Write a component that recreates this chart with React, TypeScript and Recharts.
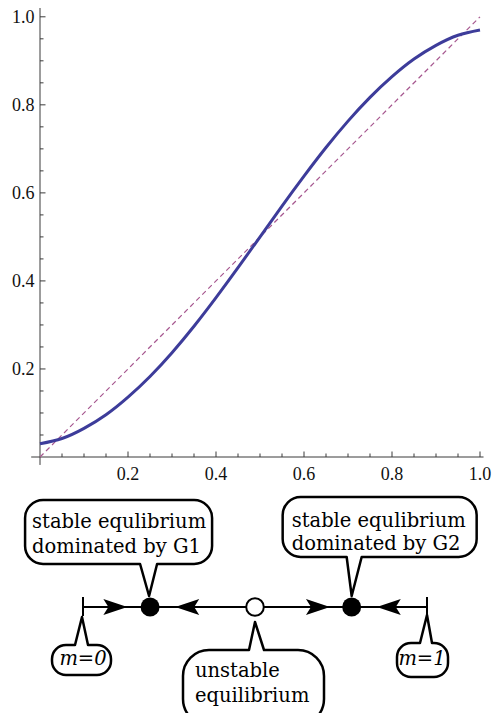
import {
  LineChart,
  Line,
  XAxis,
  YAxis,
  ReferenceLine,
  ComposedChart,
  Scatter,
} from "recharts";

// curve
const mValues = [
  0, 0.05, 0.1, 0.15, 0.2, 0.25, 0.3, 0.35, 0.4, 0.45, 0.5, 0.55, 0.6, 0.65,
  0.7, 0.75, 0.8, 0.85, 0.9, 0.95, 1,
];
const curveValues = [
  0.03, 0.042, 0.065, 0.096, 0.136, 0.183, 0.237, 0.297, 0.362, 0.43, 0.5,
  0.57, 0.638, 0.703, 0.763, 0.817, 0.864, 0.904, 0.935, 0.958, 0.97,
];
const diagonalM = [0, 1];
const diagonalValues = [0, 1];
const tickValues = [
  0.05, 0.1, 0.15, 0.2, 0.25, 0.3, 0.35, 0.4, 0.45, 0.5, 0.55, 0.6, 0.65, 0.7,
  0.75, 0.8, 0.85, 0.9, 0.95, 1,
];

// phase line below the plot
const endM = [0, 1];
const equilibriumM = [0.195, 0.5, 0.781];
const equilibriumStable = [true, false, true];
const arrowM = [0.129, 0.268, 0.718, 0.854];
const arrowDir = [1, -1, 1, -1];
const calloutM = [0.195, 0.781, 0, 1, 0.5];
const calloutLines = [
  ["stable equlibrium", "dominated by G1"],
  ["stable equlibrium", "dominated by G2"],
  ["m=0"],
  ["m=1"],
  ["unstable", "equilibrium"],
];

const curveData = mValues.map((m, i) => ({ m, v: curveValues[i] }));
const diagonalData = diagonalM.map((m, i) => ({ m, v: diagonalValues[i] }));
const lineData = endM.map((m) => ({ m, y: 0 }));
const endData = endM.map((m) => ({ m, y: 0 }));
const eqData = equilibriumM.map((m, i) => ({ m, y: 0, stable: equilibriumStable[i] }));
const arrowData = arrowM.map((m, i) => ({ m, y: 0, dir: arrowDir[i] }));
const calloutData = calloutM.map((m, i) => ({ m, y: 0, idx: i }));

const AXIS = "#3a3a3a";
const LABEL_FONT = "'Liberation Serif', 'Times New Roman', serif";
const TEXT_FONT = "'DejaVu Serif', serif";

const isMajor = (v: number) => Math.round(v * 100) % 20 === 0;

function XTick({ x, y, payload }: any) {
  const v = payload.value;
  const major = isMajor(v);
  return (
    <g>
      <line x1={x} x2={x} y1={y} y2={y - (major ? 5.5 : 3.5)} stroke={AXIS} strokeWidth={1} />
      {major && (
        <text x={x} y={y + 23} textAnchor="middle" style={{ fontFamily: LABEL_FONT, fontSize: 18 }} fill="#111">
          {v.toFixed(1)}
        </text>
      )}
    </g>
  );
}

function YTick({ x, y, payload }: any) {
  const v = payload.value;
  const major = isMajor(v);
  return (
    <g>
      <line x1={x} x2={x + (major ? 5.5 : 3.5)} y1={y} y2={y} stroke={AXIS} strokeWidth={1} />
      {major && (
        <text x={x - 5.5} y={y + 6} textAnchor="end" style={{ fontFamily: LABEL_FONT, fontSize: 18 }} fill="#111">
          {v.toFixed(1)}
        </text>
      )}
    </g>
  );
}

// callout geometry, relative to the point the tail touches
const calloutBoxes = [
  { x0: -125, x1: 62, y0: -107, y1: -43, r: 18, bl: -10, br: 7, tipX: -1, tipY: -11, tx: -118, ty: [-79, -54], anchor: "start", italic: false },
  { x0: -69, x1: 125, y0: -110, y1: -50, r: 18, bl: -5, br: 10, tipX: 0, tipY: -11, tx: -60, ty: [-80, -57], anchor: "start", italic: false },
  { x0: -31, x1: 28, y0: 38, y1: 68, r: 14, bl: -8, br: 5, tipX: -1, tipY: 10, tx: 0, ty: [58], anchor: "middle", italic: true },
  { x0: -30, x1: 21, y0: 36, y1: 70, r: 14, bl: -7, br: 5, tipX: 0, tipY: 8, tx: -5, ty: [58], anchor: "middle", italic: true },
  { x0: -72, x1: 69, y0: 43, y1: 118, r: 26, bl: -6, br: 9, tipX: 0, tipY: 15, tx: -60, ty: [70, 95], anchor: "start", italic: false },
];

function bubblePath(b: any, cx: number, cy: number) {
  const x0 = cx + b.x0, x1 = cx + b.x1, y0 = cy + b.y0, y1 = cy + b.y1, r = b.r;
  const tx = cx + b.tipX, ty = cy + b.tipY, bl = cx + b.bl, br = cx + b.br;
  const a = (x: number, y: number) => `A ${r} ${r} 0 0 0 ${x} ${y}`;
  if (b.y0 > 0) {
    return [
      `M ${bl} ${y0}`, `L ${x0 + r} ${y0}`, a(x0, y0 + r), `L ${x0} ${y1 - r}`, a(x0 + r, y1),
      `L ${x1 - r} ${y1}`, a(x1, y1 - r), `L ${x1} ${y0 + r}`, a(x1 - r, y0), `L ${br} ${y0}`,
      `L ${tx} ${ty}`, "Z",
    ].join(" ");
  }
  return [
    `M ${br} ${y1}`, `L ${x1 - r} ${y1}`, a(x1, y1 - r), `L ${x1} ${y0 + r}`, a(x1 - r, y0),
    `L ${x0 + r} ${y0}`, a(x0, y0 + r), `L ${x0} ${y1 - r}`, a(x0 + r, y1), `L ${bl} ${y1}`,
    `L ${tx} ${ty}`, "Z",
  ].join(" ");
}

function Callout({ cx, cy, payload }: any) {
  const b = calloutBoxes[payload.idx];
  const lines = calloutLines[payload.idx];
  return (
    <g>
      <path d={bubblePath(b, cx, cy)} fill="#fff" stroke="#000" strokeWidth={2.5} strokeLinejoin="round" />
      {lines.map((t, i) => (
        <text
          key={i}
          x={cx + b.tx}
          y={cy + b.ty[i]}
          textAnchor={b.anchor}
          style={{ fontFamily: TEXT_FONT, fontStyle: b.italic ? "italic" : "normal", fontSize: 19.5 }}
          fill="#000"
        >
          {t}
        </text>
      ))}
    </g>
  );
}

function EndBar({ cx, cy }: any) {
  return <line x1={cx} x2={cx} y1={cy - 10} y2={cy + 9} stroke="#000" strokeWidth={2} />;
}

function Arrowhead({ cx, cy, payload }: any) {
  const d = payload.dir;
  const pts = [
    [cx, cy],
    [cx - d * 24, cy - 8],
    [cx - d * 19, cy],
    [cx - d * 24, cy + 8],
  ];
  return <polygon points={pts.map((p) => p.join(",")).join(" ")} fill="#000" />;
}

function Equilibrium({ cx, cy, payload }: any) {
  return payload.stable ? (
    <circle cx={cx} cy={cy} r={9.5} fill="#000" />
  ) : (
    <circle cx={cx} cy={cy} r={8.8} fill="#fff" stroke="#000" strokeWidth={2} />
  );
}

export default function App() {
  return (
    <div style={{ position: "absolute", left: 0, top: 0, width: 493, height: 713, background: "#fff" }}>
      <LineChart width={493} height={487} margin={{ top: 8, right: 13, bottom: 0, left: 0 }}>
        <XAxis
          type="number"
          dataKey="m"
          domain={[0, 1]}
          ticks={tickValues}
          interval={0}
          height={30}
          axisLine={false}
          tickLine={false}
          tickSize={0}
          tickMargin={0}
          tick={<XTick />}
          allowDuplicatedCategory={false}
        />
        <YAxis
          type="number"
          domain={[0, 1.02]}
          ticks={tickValues}
          interval={0}
          width={40}
          axisLine={false}
          tickLine={false}
          tickSize={0}
          tickMargin={0}
          tick={<YTick />}
        />
        <ReferenceLine segment={[{ x: -0.02, y: 0 }, { x: 1.008, y: 0 }]} ifOverflow="visible" stroke={AXIS} strokeWidth={1} />
        <ReferenceLine segment={[{ x: 0, y: -0.018 }, { x: 0, y: 1.02 }]} ifOverflow="visible" stroke={AXIS} strokeWidth={1} />
        <Line
          data={diagonalData}
          dataKey="v"
          type="linear"
          stroke="#a6578f"
          strokeWidth={1.2}
          strokeDasharray="5 3.5"
          dot={false}
          isAnimationActive={false}
        />
        <Line
          data={curveData}
          dataKey="v"
          type="natural"
          stroke="#3d3c9a"
          strokeWidth={3}
          dot={false}
          isAnimationActive={false}
        />
      </LineChart>
      <ComposedChart width={493} height={226} margin={{ top: 14, right: 66, bottom: 0, left: 83 }}>
        <XAxis type="number" dataKey="m" domain={[0, 1]} hide />
        <YAxis type="number" dataKey="y" domain={[-1, 1]} hide />
        <Line data={lineData} dataKey="y" type="linear" stroke="#000" strokeWidth={2} dot={false} isAnimationActive={false} />
        <Scatter data={endData} dataKey="y" shape={<EndBar />} isAnimationActive={false} />
        <Scatter data={arrowData} dataKey="y" shape={<Arrowhead />} isAnimationActive={false} />
        <Scatter data={calloutData} dataKey="y" shape={<Callout />} isAnimationActive={false} />
        <Scatter data={eqData} dataKey="y" shape={<Equilibrium />} isAnimationActive={false} />
      </ComposedChart>
    </div>
  );
}
